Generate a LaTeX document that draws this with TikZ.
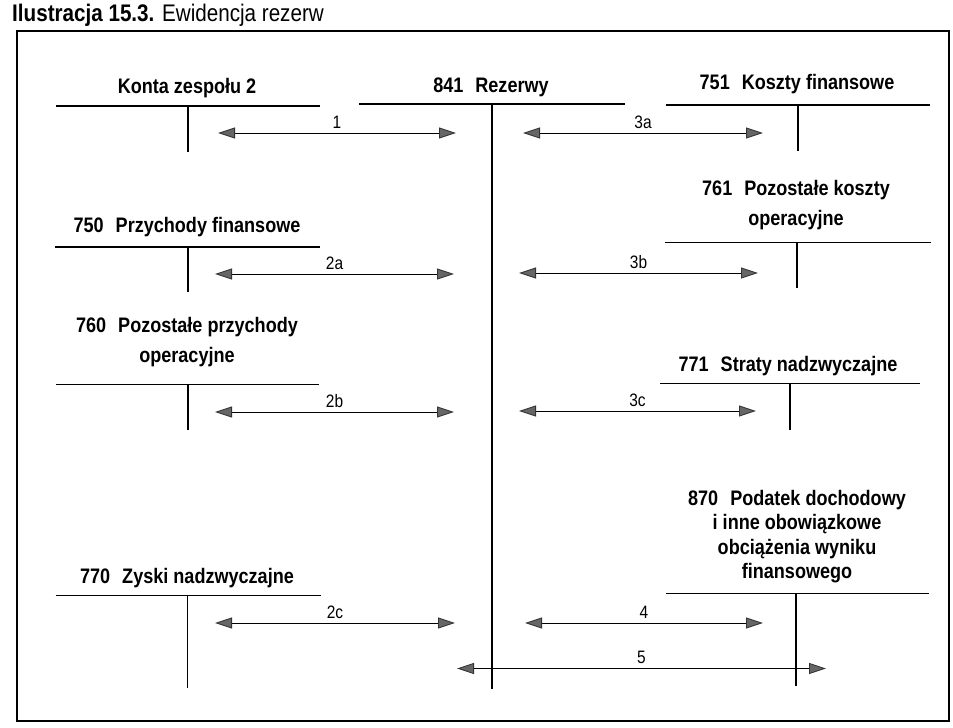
\documentclass[tikz,border=0pt]{standalone}
\usepackage{fontspec}
\setmainfont{Liberation Sans}[FakeStretch=0.86]
\usetikzlibrary{arrows.meta}
\newcommand\accgap{\hspace{12pt}}
\newcommand\acclines[1]{\begin{tabular}[t]{@{}c@{}}#1\end{tabular}}
\begin{document}
\begin{tikzpicture}[x=1pt,y=-1pt,
  acct/.style={font=\fontsize{21}{24.5}\selectfont\bfseries, anchor=base, inner sep=0pt},
  tline/.style={line width=1.1pt},
  tip/.tip={Triangle[length=17pt,width=11pt,fill=black!60,color=black!80]},
  flow/.style={line width=0.9pt, tip-tip},
  num/.style={font=\fontsize{18}{20}\selectfont, anchor=base, yshift=5pt, inner sep=0pt},
  frame/.style={line width=1.1pt}]
\useasboundingbox (0,0) rectangle (953,728);

% title and frame
\node[anchor=base west, inner sep=0pt] (title) at (12,21)
  {\fontsize{24}{28}\selectfont\textbf{Ilustracja 15.3.} Ewidencja rezerw};
\draw[frame] (17,31) rectangle (949,721);

% account headings
\node[acct] (konta) at (187,93) {Konta zespołu 2};
\node[acct] (a841) at (491,92) {841\accgap Rezerwy};
\node[acct] (a751) at (797,89) {751\accgap Koszty finansowe};
\node[acct] (a761) at (796,195) {\acclines{761\accgap Pozostałe koszty\\[5.5pt]operacyjne}};
\node[acct] (a750) at (187,232) {750\accgap Przychody finansowe};
\node[acct] (a760) at (187,332) {\acclines{760\accgap Pozostałe przychody\\[5.5pt]operacyjne}};
\node[acct] (a771) at (788,371) {771\accgap Straty nadzwyczajne};
\node[acct] (a770) at (187,583.5) {770\accgap Zyski nadzwyczajne};
\node[acct] (a870) at (797,505) {\acclines{870\accgap Podatek dochodowy\\i inne obowiązkowe\\obciążenia wyniku\\finansowego}};

% T-accounts
\coordinate (kL) at (56,106);  \coordinate (kR) at (320,106);
\coordinate (kT) at (188,106); \coordinate (kB) at (188,152);
\draw[tline] (kL) -- (kR) (kT) -- (kB);

\coordinate (rL) at (359,104); \coordinate (rR) at (625,104);
\coordinate (rT) at (492,104); \coordinate (rB) at (492,689);
\draw[tline] (rL) -- (rR) (rT) -- (rB);

\coordinate (fL) at (666,105); \coordinate (fR) at (930,105);
\coordinate (fT) at (798,105); \coordinate (fB) at (798,151);
\draw[tline] (fL) -- (fR) (fT) -- (fB);

\coordinate (oL) at (665,242.5); \coordinate (oR) at (931,242.5);
\coordinate (oT) at (797,242.5); \coordinate (oB) at (797,288);
\draw[tline] (oL) -- (oR) (oT) -- (oB);

\coordinate (pL) at (55,247); \coordinate (pR) at (320,247);
\coordinate (pT) at (188,247); \coordinate (pB) at (188,292);
\draw[tline] (pL) -- (pR) (pT) -- (pB);

\coordinate (qL) at (56,384.5); \coordinate (qR) at (319,384.5);
\coordinate (qT) at (188,384.5); \coordinate (qB) at (188,430);
\draw[tline] (qL) -- (qR) (qT) -- (qB);

\coordinate (sL) at (660,383.5); \coordinate (sR) at (920,383.5);
\coordinate (sT) at (790,383.5); \coordinate (sB) at (790,430);
\draw[tline] (sL) -- (sR) (sT) -- (sB);

\coordinate (zL) at (55.5,595.5); \coordinate (zR) at (321,595.5);
\coordinate (zT) at (187.5,595.5); \coordinate (zB) at (187.5,687.5);
\draw[tline] (zL) -- (zR) (zT) -- (zB);

\coordinate (dL) at (666,593.5); \coordinate (dR) at (929,593.5);
\coordinate (dT) at (796,593.5); \coordinate (dB) at (796,686);
\draw[tline] (dL) -- (dR) (dT) -- (dB);

% flows
\coordinate (e1a) at (218,133); \coordinate (e1b) at (456,133);
\draw[flow] (e1a) -- node[num] {1} (e1b);
\coordinate (e3aa) at (523,133); \coordinate (e3ab) at (763,133);
\draw[flow] (e3aa) -- node[num] {3a} (e3ab);
\coordinate (e2aa) at (215,274); \coordinate (e2ab) at (454,274);
\draw[flow] (e2aa) -- node[num] {2a} (e2ab);
\coordinate (e3ba) at (519,273); \coordinate (e3bb) at (758,273);
\draw[flow] (e3ba) -- node[num] {3b} (e3bb);
\coordinate (e2ba) at (215,412); \coordinate (e2bb) at (454,412);
\draw[flow] (e2ba) -- node[num] {2b} (e2bb);
\coordinate (e3ca) at (519,411); \coordinate (e3cb) at (756,411);
\draw[flow] (e3ca) -- node[num] {3c} (e3cb);
\coordinate (e2ca) at (215,623); \coordinate (e2cb) at (455,623);
\draw[flow] (e2ca) -- node[num] {2c} (e2cb);
\coordinate (e4a) at (525,623); \coordinate (e4b) at (763,623);
\draw[flow] (e4a) -- node[num] {4} (e4b);
\coordinate (e5a) at (457,668.5); \coordinate (e5b) at (826,668.5);
\draw[flow] (e5a) -- node[num] {5} (e5b);
\end{tikzpicture}
\end{document}
